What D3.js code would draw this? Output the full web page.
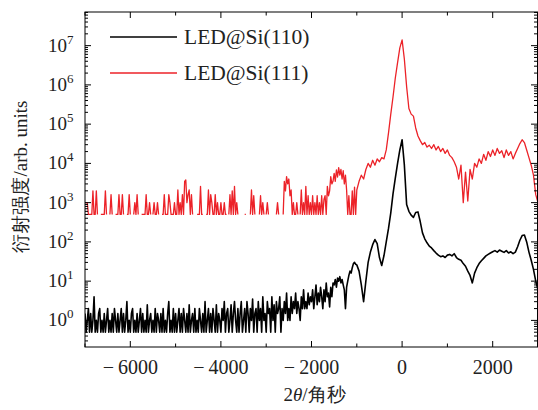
<!DOCTYPE html>
<html><head><meta charset="utf-8">
<script src="https://cdn.jsdelivr.net/npm/d3@7"></script>
<style>
body{margin:0;background:#fff}
.serif{font-family:"Liberation Serif","DejaVu Serif",serif;}
</style>
</head><body>
<svg id="c" width="538" height="410"></svg>
<script>
// scan grids (arcsec): fine grid in the noisy tail, coarser grid near the peaks
const lowStart = -7000, lowStep = 25;   // 240 points: -7000 .. -1025
const highStart = -1000, highStep = 50; // 81 points:  -1000 .. 3000

// LED@Si(110) intensity
const si110Low = [
  // -7000 .. -6525
  1.5,0.5,1,2,0.5,1.5,0.5,1,4,0.5, 1,0.5,1.5,2,0.5,1,0.5,1.5,0.5,1,
  // -6500 .. -6025
  2,0.5,1,0.5,1.5,0.5,2,1,0.5,1.5, 0.5,1,2,0.5,1.5,0.5,1,3,0.5,1,
  // -6000 .. -5525
  0.5,1.5,2,0.5,1,0.5,1.5,0.5,1,2, 0.5,1.5,0.5,1,0.5,2.5,0.5,1,1.5,0.5,
  // -5500 .. -5025
  1,0.5,2,0.5,1.5,1,0.5,1.5,0.5,2, 0.5,1,0.5,1.5,3,0.5,1,0.5,2,0.5,
  // -5000 .. -4525
  1.5,0.5,1,2,0.5,1.5,0.5,2,1,0.5, 1.5,0.5,2.5,0.5,1,1.5,0.5,2,0.5,1,
  // -4500 .. -4025
  0.5,2,1,0.5,1.5,0.5,3,0.5,1,2, 0.5,1.5,0.5,2,1,0.5,2.5,0.5,1.5,1,
  // -4000 .. -3525
  0.5,2,1,3,0.5,1.5,2,0.5,1,2.5, 0.5,1.5,3,1,0.5,2,0.5,1.5,3,0.5,
  // -3500 .. -3025
  1,2,0.5,3,1.5,0.5,2,1,3.5,0.5, 1.5,2,0.5,3,1,2,0.5,4,1,1.5,
  // -3000 .. -2525
  0.5,3,1.5,2,0.5,4,1,2.5,0.5,3, 1.5,2,4,0.5,2,1,3,1.5,5,1,
  // -2500 .. -2025
  2,1,4,1.5,3,2,5,1.5,3,2, 1,4,2,6,2,3,2,5,2.5,4,
  // -2000 .. -1525
  3,6,2,4,8,2.5,5,3,7,4, 2,6,3,9,4,5,2.2,7,4,9,
  // -1500 .. -1025
  8,11,7,12,10,13,9,11,8,6, 2,7,10,14,18,16,22,28,30,27
];
const si110High = [
  // -1000 .. -50
  26,18,8,3,10,30,55,85,115,90, 40,25,45,100,220,550,1700,4200,10000,22000,
  // 0 .. 950
  40000,9000,900,600,480,420,560,580,330,170, 120,95,78,70,60,52,46,42,44,40,
  // 1000 .. 1950
  46,48,44,50,40,36,34,28,24,18, 14,9,16,22,28,33,38,44,48,52,
  // 2000 .. 2950
  56,60,55,62,58,54,60,52,56,50, 55,75,110,145,150,100,55,34,20,10,
  // 3000
  6
];

// LED@Si(111) intensity (0 = no counts, left undrawn on the log axis)
const si111Low = [
  // -7000 .. -6525
  1000,1000,1000,500,500,500,500,2000,500,500, 2000,500,0,0,500,500,500,500,2000,500,
  // -6500 .. -6025
  0,0,500,1600,500,0,0,500,500,500, 1600,500,500,1600,500,0,0,500,500,1600,
  // -6000 .. -5525
  500,0,0,500,1000,500,1600,500,0,0, 500,500,500,500,1600,500,500,1000,500,0,
  // -5500 .. -5025
  500,1000,500,500,1000,500,0,0,500,500, 1600,500,500,500,1600,1000,500,500,500,1000,
  // -5000 .. -4525
  500,500,2100,500,1000,500,1600,500,3500,3800, 1000,1600,2100,500,1600,500,0,0,0,500,
  // -4500 .. -4025
  500,500,2600,500,500,0,0,500,500,2100, 500,1600,1000,500,500,1600,500,1000,500,500,
  // -4000 .. -3525
  1000,500,500,1000,500,500,0,500,1600,500, 2000,500,2600,500,1000,500,0,0,0,0,
  // -3500 .. -3025
  0,500,500,0,0,0,500,2100,500,1500, 500,0,0,0,500,1500,500,1000,500,0,
  // -3000 .. -2525
  500,1000,500,0,0,0,0,0,0,500, 1000,500,0,0,0,500,3500,2000,4600,3000,
  // -2500 .. -2025
  4000,1500,2100,500,1000,500,500,1000,500,0, 500,2100,500,1000,500,2600,500,1500,500,1000,
  // -2000 .. -1525
  500,1500,500,1000,500,1500,500,1000,500,1500, 500,1200,1500,500,2600,1500,2000,4600,3000,3500,
  // -1500 .. -1025
  5600,3500,6800,4500,7800,5000,7000,4000,6500,3000, 5000,2100,500,1500,500,500,2000,500,2500,500
];
const si111High = [
  // -1000 .. -50
  2100,3500,5000,4000,7000,10000,8000,12000,9000,13000, 11000,14000,13000,22000,60000,180000,500000,1500000,3700000,8800000,
  // 0 .. 950
  14000000,4500000,900000,250000,180000,160000,80000,50000,38000,30000, 34000,26000,29000,24000,30000,22000,27000,20000,24000,18000,
  // 1000 .. 1950
  22000,16000,14000,11000,8000,4000,9000,1000,6000,1100, 7000,4000,10000,8000,13000,10000,17000,12000,20000,15000,
  // 2000 .. 2950
  22000,16000,24000,18000,21000,14000,22000,16000,20000,13000, 18000,24000,32000,40000,34000,22000,14000,9000,5000,1600,
  // 3000
  1000
];

const seriesNames = ["LED@Si(110)", "LED@Si(111)"];
const seriesColors = ["#000000", "#ec2228"];
const xTicks = [-6000, -4000, -2000, 0, 2000];
const xMinorTicks = [-7000, -5000, -3000, -1000, 1000, 3000];
const yExponents = [0, 1, 2, 3, 4, 5, 6, 7];
const xDomain = [-7000, 3000];
const yDomain = [0.21, 7.2e7];
const yTitle = "衍射强度/arb. units";

const svg = d3.select("#c");
const L = 85, R = 538, T = 12, B = 347;
const x = d3.scaleLinear().domain(xDomain).range([L, R]);
const y = d3.scaleLog().domain(yDomain).range([B, T]);

svg.append("defs").append("clipPath").attr("id", "clip")
  .append("rect").attr("x", L).attr("y", T).attr("width", R - L).attr("height", B - T);

function toPoints(low, high) {
  return low.map((v, i) => ({a: lowStart + i * lowStep, v}))
    .concat(high.map((v, j) => ({a: highStart + j * highStep, v})));
}
const series = [
  {name: seriesNames[0], color: seriesColors[0], w: 1.6, pts: toPoints(si110Low, si110High)},
  {name: seriesNames[1], color: seriesColors[1], w: 1.3, pts: toPoints(si111Low, si111High)}
];

const line = d3.line().defined(d => d.v > 0).x(d => x(d.a)).y(d => y(d.v));
const g = svg.append("g").attr("clip-path", "url(#clip)");
[series[1], series[0]].forEach(s => {
  g.append("path").datum(s.pts).attr("d", line)
    .attr("fill", "none").attr("stroke", s.color)
    .attr("stroke-width", s.w).attr("stroke-linejoin", "round");
});

// frame
svg.append("rect").attr("x", L).attr("y", T).attr("width", R - L - 0.5).attr("height", B - T)
  .attr("fill", "none").attr("stroke", "#000").attr("stroke-width", 1);

const ax = svg.append("g").attr("stroke", "#000").attr("stroke-width", 1);
xTicks.forEach(t => {
  ax.append("line").attr("x1", x(t)).attr("x2", x(t)).attr("y1", B).attr("y2", B - 6);
  ax.append("line").attr("x1", x(t)).attr("x2", x(t)).attr("y1", T).attr("y2", T + 6);
});
xMinorTicks.forEach(t => {
  ax.append("line").attr("x1", x(t)).attr("x2", x(t)).attr("y1", B).attr("y2", B - 3.5);
  ax.append("line").attr("x1", x(t)).attr("x2", x(t)).attr("y1", T).attr("y2", T + 3.5);
});
d3.range(-1, 8).map(e => Math.pow(10, e)).forEach(v => {
  for (let m = 1; m <= 9; m++) {
    const val = v * m;
    if (val < yDomain[0] || val > yDomain[1]) continue;
    const len = m === 1 ? 6 : 3;
    ax.append("line").attr("x1", L).attr("x2", L + len).attr("y1", y(val)).attr("y2", y(val));
    ax.append("line").attr("x1", R - 1).attr("x2", R - 1 - len).attr("y1", y(val)).attr("y2", y(val));
  }
});

// x tick labels
svg.append("g").selectAll("text").data(xTicks).join("text")
  .attr("class", "serif")
  .attr("x", d => x(d)).attr("y", B + 27)
  .attr("text-anchor", "middle").attr("font-size", 20).attr("fill", "#222")
  .text(d => d < 0 ? "\u2212\u2009" + Math.abs(d) : String(d));

// y tick labels 10^n
const yl = svg.append("g").selectAll("text").data(yExponents).join("text")
  .attr("class", "serif")
  .attr("x", 48).attr("y", d => y(Math.pow(10, d)) + 6)
  .attr("font-size", 19).attr("fill", "#222");
yl.append("tspan").text("10");
yl.append("tspan").attr("dy", -8).attr("font-size", 13).text(d => d);

// axis titles
const xt = svg.append("text").attr("class", "serif")
  .attr("x", (L + R) / 2 + 3).attr("y", 401)
  .attr("text-anchor", "middle").attr("font-size", 19).attr("fill", "#222");
xt.append("tspan").text("2");
xt.append("tspan").attr("font-style", "italic").text("θ");
xt.append("tspan").text("/角秒");
svg.append("text").attr("class", "serif")
  .attr("transform", `translate(27,${(T + B) / 2 - 3}) rotate(-90)`)
  .attr("text-anchor", "middle").attr("font-size", 19).attr("fill", "#222")
  .text(yTitle);

// legend
const leg = svg.append("g");
series.forEach((s, k) => {
  const ly = 37 + k * 36;
  leg.append("line").attr("x1", 110).attr("x2", 177).attr("y1", ly).attr("y2", ly)
    .attr("stroke", s.color).attr("stroke-width", 1.5);
  leg.append("text").attr("class", "serif").attr("x", 184).attr("y", ly + 7)
    .attr("font-size", 21.5).attr("fill", "#222").text(s.name);
});
</script>
</body></html>
